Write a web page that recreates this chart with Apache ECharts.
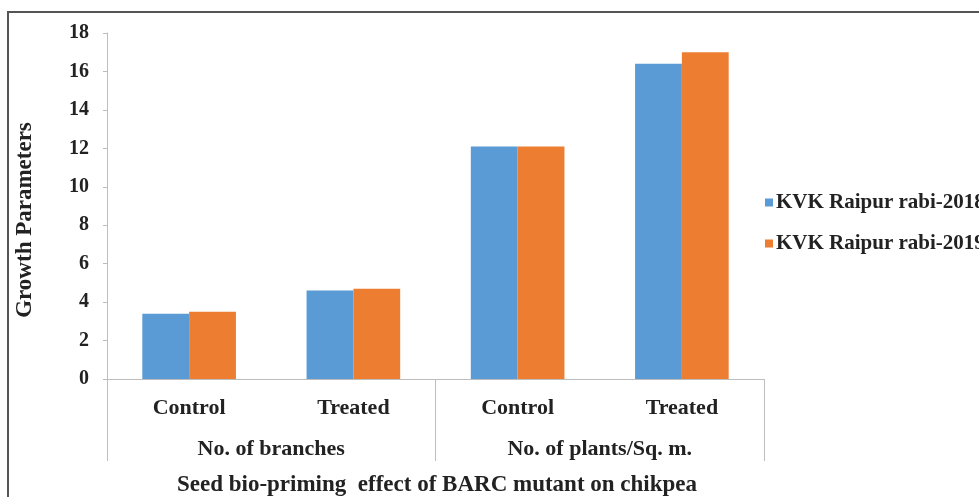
<!DOCTYPE html>
<html><head><meta charset="utf-8">
<script src="https://cdn.jsdelivr.net/npm/echarts@6/dist/echarts.min.js"></script>
<style>html,body{margin:0;padding:0;background:#fff;}#c{width:979px;height:497px;}</style>
</head><body><div id="c"></div>
<script>
var categories = ['Control', 'Treated', 'Control', 'Treated'];
var groups = ['No. of branches', 'No. of plants/Sq. m.'];
var seriesNames = ['KVK Raipur rabi-2018', 'KVK Raipur rabi-2019'];
var values2018 = [3.4, 4.6, 12.1, 16.4];
var values2019 = [3.5, 4.7, 12.1, 17.0];
var yTicks = {min: 0, max: 18, interval: 2};
var yTitle = 'Growth Parameters';
var xTitle = 'Seed bio-priming  effect of BARC mutant on chikpea';

var FONT = '"Liberation Serif", "Times New Roman", serif';
var chart = echarts.init(document.getElementById('c'));
chart.setOption({
  animation: false,
  grid: {left: 107, right: 215, top: 33, bottom: 118, containLabel: false},
  legend: {
    orient: 'vertical', left: 760, top: 187, itemWidth: 8, itemHeight: 8, itemGap: 20,
    icon: 'rect',
    textStyle: {fontFamily: FONT, fontWeight: 'bold', fontSize: 21, color: '#222', padding: [0, 0, 0, -2]},
    data: seriesNames
  },
  xAxis: [{
    type: 'category', data: categories, position: 'bottom',
    axisLine: {lineStyle: {color: '#bdbdbd', width: 1}},
    axisTick: {show: false},
    axisLabel: {fontFamily: FONT, fontWeight: 'bold', fontSize: 22, color: '#222', margin: 18}
  }, {
    type: 'category', data: groups, position: 'bottom',
    axisLine: {show: false},
    axisTick: {show: true, length: 82, inside: false, alignWithLabel: false, lineStyle: {color: '#bdbdbd', width: 1}},
    axisLabel: {fontFamily: FONT, fontWeight: 'bold', fontSize: 22, color: '#222', margin: 59}
  }],
  yAxis: {
    type: 'value', min: yTicks.min, max: yTicks.max, interval: yTicks.interval,
    axisLine: {show: true, lineStyle: {color: '#bdbdbd'}},
    axisTick: {show: true, length: 4, lineStyle: {color: '#bdbdbd'}},
    splitLine: {show: false},
    axisLabel: {fontFamily: FONT, fontWeight: 'bold', fontSize: 20, color: '#222', margin: 18}
  },
  series: [{
    name: seriesNames[0], type: 'bar', data: values2018, barGap: '0%', barCategoryGap: '43%',
    itemStyle: {color: '#5B9BD5'}
  }, {
    name: seriesNames[1], type: 'bar', data: values2019, barGap: '0%', barCategoryGap: '43%',
    itemStyle: {color: '#ED7D31'}
  }],
  graphic: [{
    type: 'rect', shape: {x: 8, y: 12, width: 990, height: 500},
    style: {fill: 'none', stroke: '#555', lineWidth: 2}, silent: true
  }, {
    type: 'text', x: 437, y: 485,
    style: {text: xTitle, fontFamily: FONT, fontWeight: 'bold', fontSize: 23, fill: '#222', textAlign: 'center', textVerticalAlign: 'middle'}
  }, {
    type: 'text', x: 25, y: 220, rotation: Math.PI / 2,
    style: {text: yTitle, fontFamily: FONT, fontWeight: 'bold', fontSize: 23, fill: '#222', textAlign: 'center', textVerticalAlign: 'middle'}
  }]
});
</script></body></html>
